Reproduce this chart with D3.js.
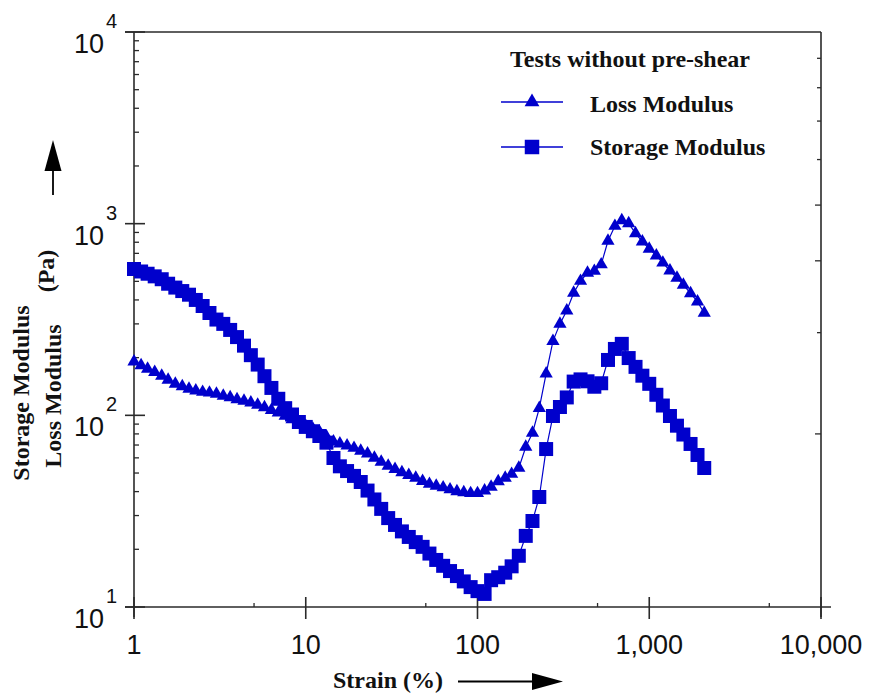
<!DOCTYPE html>
<html>
<head>
<meta charset="utf-8">
<script src="https://cdn.jsdelivr.net/npm/d3@7/dist/d3.min.js"></script>
<style>
  html, body { margin: 0; padding: 0; background: #fff; }
  svg { display: block; }
</style>
</head>
<body>
<svg id="chart" width="869" height="696"></svg>
<script>
// Strain sweep (%), shared by both series
const strain = [1, 1.1, 1.2, 1.32, 1.45, 1.58, 1.74, 1.91, 2.09, 2.29, 2.51, 2.75, 3.02, 3.31, 3.63, 3.98, 4.37, 4.79, 5.25, 5.75, 6.31, 6.92, 7.59, 8.32, 9.12,
  10, 11, 12, 13.2, 14.5, 15.8, 17.4, 19.1, 20.9, 22.9, 25.1, 27.5, 30.2, 33.1, 36.3, 39.8, 43.7, 47.9, 52.5, 57.5, 63.1, 69.2, 75.9, 83.2, 91.2,
  100, 110, 120, 132, 145, 158, 174, 191, 209, 229, 251, 275, 302, 331, 363, 398, 437, 479, 525, 575, 631, 692, 759, 832, 912,
  1000, 1100, 1200, 1320, 1450, 1580, 1740, 1910, 2090];

// Loss modulus G'' (Pa)
const lossModulus = [190.5, 182, 174.5, 168, 160.5, 153, 146, 141.4, 137.5, 134.6,
  132.3, 131.1, 129.2, 126.4, 123.9, 121.2, 118.8, 116.4, 113.4, 109.9,
  106.5, 103.3, 99.4, 95.3, 91.5, 87.8, 85.0, 82.3, 77.3, 72.9,
  71.2, 69.4, 67.5, 65.3, 63.1, 59.9, 57.1, 54.4, 52.4, 50.4,
  48.7, 47.1, 45.4, 43.8, 42.8, 42.0, 41.0, 40.1, 39.6, 39.2,
  39.2, 40.5, 42.3, 45.2, 47.1, 49.4, 53.1, 68.4, 80.9, 109,
  165, 244, 300, 352, 435, 502, 553, 566, 612, 812,
  972, 1039, 1002, 890, 806, 739, 681, 625, 568, 521,
  479, 433, 392, 342];

// Storage modulus G' (Pa)
const storageModulus = [580, 563, 548, 531, 513, 486, 464, 445, 426, 400,
  372, 342, 316, 300, 279, 256, 231, 206, 184, 160,
  139, 122, 109, 101, 92.3, 87.0, 82.6, 78.0, 72.0, 59.9,
  54.2, 51.2, 48.3, 44.9, 40.5, 36.4, 32.5, 29.1, 26.8, 24.8,
  23.2, 21.8, 20.6, 19.0, 17.6, 16.4, 15.4, 14.5, 13.6, 12.7,
  12.1, 11.7, 13.8, 14.3, 15.1, 16.3, 18.5, 23.5, 28.1, 37.5,
  66.7, 99.2, 110.5, 124, 150, 154, 150.5, 141, 147, 194.5,
  222, 236, 199, 179, 161, 146, 128, 112.5, 99.2, 88.3,
  79.4, 70.9, 62.1, 53.1];

const xTickValues = [1, 10, 100, 1000, 10000];
const xTickLabels = ["1", "10", "100", "1,000", "10,000"];
const xMinorTicks = [5, 50, 500, 5000];
const yTickExponents = [1, 2, 3, 4];
const rightMinorTicks = [2, 3, 4, 5, 6, 7, 8, 9];

const legendTitle = "Tests without pre-shear";
const seriesNames = ["Loss Modulus", "Storage Modulus"];

const BLUE = "#0000cc";
const AXIS = "#2a2a2a";
const serif = "'Liberation Serif', 'Times New Roman', serif";
const sans = "'Liberation Sans', Arial, sans-serif";

const svg = d3.select("#chart");

const x = d3.scaleLog().domain([1, 10000]).range([134, 821]);
const y = d3.scaleLog().domain([10, 10000]).range([607, 32]);
const yRight = d3.scaleLog().domain([1, 10]).range([607, 32]);

const lossData = strain.map((s, i) => ({ x: s, y: lossModulus[i] }));
const storageData = strain.map((s, i) => ({ x: s, y: storageModulus[i] }));

// ---- frame and axes ----
const g = svg.append("g").attr("stroke", AXIS).attr("stroke-width", 1.6).attr("fill", "none");
g.append("line").attr("x1", x(1)).attr("x2", x(1)).attr("y1", y(10000)).attr("y2", y(10) + 10);
g.append("line").attr("x1", x(1) - 9).attr("x2", x(10000) + 10).attr("y1", y(10)).attr("y2", y(10));
g.append("line").attr("x1", x(1) - 9).attr("x2", x(10000)).attr("y1", y(10000)).attr("y2", y(10000));
g.append("line").attr("x1", x(10000)).attr("x2", x(10000)).attr("y1", y(10000)).attr("y2", y(10) + 10);

// y major ticks (crossing the axis)
yTickExponents.forEach(e => {
  const v = Math.pow(10, e);
  g.append("line").attr("x1", x(1) - 9).attr("x2", x(1) + 11).attr("y1", y(v)).attr("y2", y(v));
});
// y minor ticks (inside)
[10, 100, 1000].forEach(d => {
  for (let m = 2; m <= 9; m++) {
    g.append("line").attr("x1", x(1)).attr("x2", x(1) + 5)
      .attr("y1", y(d * m)).attr("y2", y(d * m)).attr("stroke-width", 1.3);
  }
});
// x major ticks
xTickValues.forEach(v => {
  g.append("line").attr("x1", x(v)).attr("x2", x(v)).attr("y1", y(10) - 10).attr("y2", y(10) + 12);
});
// x minor ticks
xMinorTicks.forEach(v => {
  g.append("line").attr("x1", x(v)).attr("x2", x(v)).attr("y1", y(10)).attr("y2", y(10) - 4).attr("stroke-width", 1.3);
});
// right-hand axis minor ticks
rightMinorTicks.forEach(v => {
  g.append("line").attr("x1", x(10000)).attr("x2", x(10000) - (v === 2 || v === 4 || v === 5 ? 6 : 4))
    .attr("y1", yRight(v)).attr("y2", yRight(v)).attr("stroke-width", 1.3);
});

// ---- tick labels ----
const labels = svg.append("g").attr("fill", "#111").attr("font-family", sans);
xTickValues.forEach((v, i) => {
  labels.append("text").attr("x", x(v)).attr("y", 654).attr("text-anchor", "middle")
    .attr("font-size", 27).text(xTickLabels[i]);
});
yTickExponents.forEach(e => {
  const yy = y(Math.pow(10, e));
  labels.append("text").attr("x", 104).attr("y", yy + 21).attr("text-anchor", "end")
    .attr("font-size", 27).text("10");
  labels.append("text").attr("x", 106).attr("y", yy - 4).attr("text-anchor", "start")
    .attr("font-size", 20).text(String(e));
});

// ---- axis titles ----
const titles = svg.append("g").attr("fill", "#111").attr("font-family", serif).attr("font-weight", "bold").attr("font-size", 24);
titles.append("text").attr("transform", "translate(29,393) rotate(-90)").attr("text-anchor", "middle").text("Storage Modulus");
titles.append("text").attr("transform", "translate(61,396) rotate(-90)").attr("text-anchor", "middle").text("Loss Modulus");
titles.append("text").attr("transform", "translate(54,271) rotate(-90)").attr("text-anchor", "middle").text("(Pa)");
titles.append("text").attr("x", 333).attr("y", 688).text("Strain (%)");

// arrows next to the titles
svg.append("line").attr("x1", 53).attr("x2", 53).attr("y1", 195).attr("y2", 166).attr("stroke", "#000").attr("stroke-width", 1.8);
svg.append("path").attr("d", "M53,140 L61.5,171 L44.5,171 Z").attr("fill", "#000");
svg.append("line").attr("x1", 458).attr("x2", 536).attr("y1", 681.5).attr("y2", 681.5).attr("stroke", "#000").attr("stroke-width", 1.8);
svg.append("path").attr("d", "M563,681.5 L532,673 L532,690 Z").attr("fill", "#000");

// ---- series ----
const line = d3.line().x(d => x(d.x)).y(d => y(d.y));
const triangle = d3.symbol().type(d3.symbolTriangle).size(76);
const square = d3.symbol().type(d3.symbolSquare).size(196);

const plot = svg.append("g");
plot.append("path").datum(storageData).attr("d", line).attr("fill", "none").attr("stroke", BLUE).attr("stroke-width", 1.2);
plot.append("path").datum(lossData).attr("d", line).attr("fill", "none").attr("stroke", BLUE).attr("stroke-width", 1.2);

plot.append("g").selectAll("path").data(storageData).join("path")
  .attr("transform", d => `translate(${x(d.x)},${y(d.y)})`).attr("d", square).attr("fill", BLUE);
plot.append("g").selectAll("path").data(lossData).join("path")
  .attr("transform", d => `translate(${x(d.x)},${y(d.y)})`).attr("d", triangle).attr("fill", BLUE);

// ---- legend ----
const legend = svg.append("g").attr("font-family", serif).attr("font-weight", "bold").attr("font-size", 24).attr("fill", "#111");
legend.append("text").attr("x", 510).attr("y", 67).text(legendTitle);
const legendRows = [
  { name: seriesNames[0], sym: d3.symbol().type(d3.symbolTriangle).size(95), ly: 102, ty: 112 },
  { name: seriesNames[1], sym: d3.symbol().type(d3.symbolSquare).size(210), ly: 147, ty: 155 }
];
legendRows.forEach(r => {
  legend.append("line").attr("x1", 501).attr("x2", 563).attr("y1", r.ly).attr("y2", r.ly).attr("stroke", BLUE).attr("stroke-width", 1.4);
  legend.append("path").attr("transform", `translate(532,${r.ly})`).attr("d", r.sym()).attr("fill", BLUE);
  legend.append("text").attr("x", 590).attr("y", r.ty).text(r.name);
});
</script>
</body>
</html>
